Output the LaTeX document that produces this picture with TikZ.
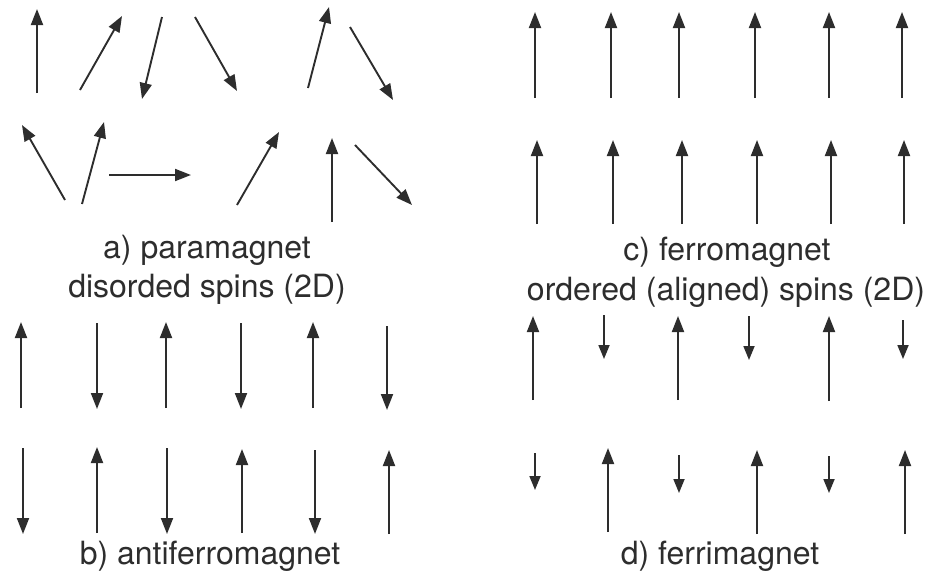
\documentclass[tikz,border=0pt]{standalone}
\usepackage{fontspec}
\setmainfont{TeX Gyre Heros}
\usetikzlibrary{arrows.meta}
\definecolor{ink}{RGB}{45,45,45}
\tikzset{
	spin/.style={line width=1.9pt, color=ink, -{Triangle[length=16pt, width=12pt]}},
	smallspin/.style={line width=1.8pt, color=ink, -{Triangle[length=14pt, width=11pt]}},
	caption/.style={text=ink, font=\fontsize{32}{37}\selectfont, inner sep=0pt}
}

\begin{document}
\begin{tikzpicture}[x=1pt, y=-1pt]
		%%%%% START %%%%%
		\useasboundingbox (0, 0) rectangle (929, 573);
		
		% a) paramagnet
		\draw[spin] (37, 93) -- (37, 9);
		\draw[spin] (80, 90) -- (122, 16);
		\draw[spin] (162, 17) -- (142, 99);
		\draw[spin] (195, 17) -- (237, 91);
		\draw[spin] (308, 88) -- (329, 7);
		\draw[spin] (350, 27) -- (393, 100);
		
		\draw[spin] (65, 200) -- (22, 125);
		\draw[spin] (82, 204) -- (104, 122);
		\draw[spin] (109, 175) -- (191, 175);
		\draw[spin] (237, 205) -- (279, 132);
		\draw[spin] (332, 222) -- (332, 138);
		\draw[spin] (355, 145) -- (412, 205);
		
		\node[caption] (para) at (207, 250) {a) paramagnet};
		\node[caption] (paradis) at (207, 289) {disorded spins (2D)};
		
		% c) ferromagnet
		\draw[spin] (535, 98) -- (535, 12);
		\draw[spin] (611, 98) -- (611, 12);
		\draw[spin] (679, 98) -- (679, 12);
		\draw[spin] (755, 98) -- (755, 12);
		\draw[spin] (829, 98) -- (829, 12);
		\draw[spin] (902, 98) -- (902, 12);
		
		\draw[spin] (537, 224) -- (537, 140);
		\draw[spin] (613, 224) -- (613, 140);
		\draw[spin] (682, 224) -- (682, 140);
		\draw[spin] (757, 224) -- (757, 140);
		\draw[spin] (831, 224) -- (831, 140);
		\draw[spin] (904, 224) -- (904, 140);
		
		\node[caption] (ferro) at (727, 252) {c) ferromagnet};
		\node[caption] (ferroord) at (726, 292) {ordered (aligned) spins (2D)};
		
		% b) antiferromagnet
		\draw[spin] (21, 408) -- (21, 322);
		\draw[spin] (97, 323) -- (97, 409);
		\draw[spin] (166, 408) -- (166, 322);
		\draw[spin] (241, 323) -- (241, 409);
		\draw[spin] (313, 408) -- (313, 322);
		\draw[spin] (387, 326) -- (387, 410);
		
		\draw[spin] (23, 448) -- (23, 534);
		\draw[spin] (97, 533) -- (97, 447);
		\draw[spin] (167, 448) -- (167, 534);
		\draw[spin] (242, 533) -- (242, 449);
		\draw[spin] (315, 450) -- (315, 534);
		\draw[spin] (389, 534) -- (389, 450);
		
		\node[caption] (anti) at (210, 556) {b) antiferromagnet};
		
		% d) ferrimagnet
		\draw[spin] (533, 400) -- (533, 316);
		\draw[smallspin] (604, 315) -- (604, 359);
		\draw[spin] (678, 400) -- (678, 316);
		\draw[smallspin] (749, 316) -- (749, 360);
		\draw[spin] (829, 401) -- (829, 316);
		\draw[smallspin] (903, 320) -- (903, 359);
		
		\draw[smallspin] (535, 453) -- (535, 490);
		\draw[spin] (608, 532) -- (608, 448);
		\draw[smallspin] (679, 455) -- (679, 493);
		\draw[spin] (757, 534) -- (757, 450);
		\draw[smallspin] (829, 456) -- (829, 493);
		\draw[spin] (905, 534) -- (905, 450);
		
		\node[caption] (ferri) at (720, 556) {d) ferrimagnet};
		
		%%%%% END %%%%%
	\end{tikzpicture}
\end{document}
